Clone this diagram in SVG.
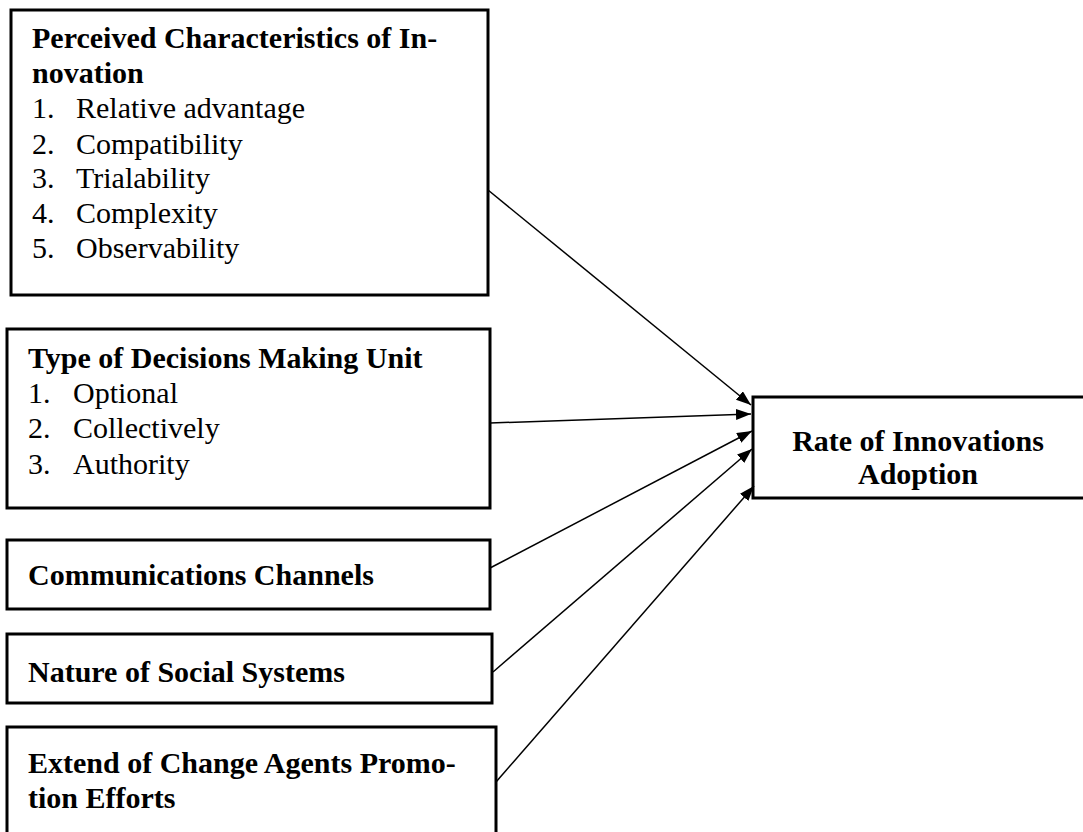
<svg xmlns="http://www.w3.org/2000/svg" width="1083" height="832" viewBox="0 0 1083 832">
<style>
.box{fill:#fff;stroke:#000;stroke-width:3}
.t{font-family:"Liberation Serif","Times New Roman",serif;font-size:30px;fill:#000}
.b{font-weight:bold}
.c{text-anchor:middle}
.conn{stroke:#000;stroke-width:1.5;fill:none;marker-end:url(#ah)}
</style>
<defs>
<marker id="ah" markerUnits="userSpaceOnUse" markerWidth="16" markerHeight="12" refX="15" refY="5.5" orient="auto">
<path d="M0,0 L15,5.5 L0,11 z" fill="#000"/>
</marker>
</defs>
<rect width="1083" height="832" fill="#fff"/>
<g id="n1">
<rect class="box" x="11" y="10" width="477" height="285"/>
<text class="t b" x="32" y="48">Perceived Characteristics of In-</text>
<text class="t b" x="32" y="83">novation</text>
<text class="t" x="32" y="118">1.</text><text class="t" x="76" y="118">Relative advantage</text>
<text class="t" x="32" y="154">2.</text><text class="t" x="76" y="154">Compatibility</text>
<text class="t" x="32" y="188">3.</text><text class="t" x="76" y="188">Trialability</text>
<text class="t" x="32" y="223">4.</text><text class="t" x="76" y="223">Complexity</text>
<text class="t" x="32" y="258">5.</text><text class="t" x="76" y="258">Observability</text>
</g>
<g id="n2">
<rect class="box" x="7" y="329" width="483" height="179"/>
<text class="t b" x="28" y="368">Type of Decisions Making Unit</text>
<text class="t" x="28" y="403">1.</text><text class="t" x="73" y="403">Optional</text>
<text class="t" x="28" y="438">2.</text><text class="t" x="73" y="438">Collectively</text>
<text class="t" x="28" y="474">3.</text><text class="t" x="73" y="474">Authority</text>
</g>
<g id="n3">
<rect class="box" x="7" y="540" width="483" height="69"/>
<text class="t b" x="28" y="585">Communications Channels</text>
</g>
<g id="n4">
<rect class="box" x="7" y="634" width="485" height="69"/>
<text class="t b" x="28" y="682">Nature of Social Systems</text>
</g>
<g id="n5">
<rect class="box" x="7" y="727" width="489" height="120"/>
<text class="t b" x="28" y="773">Extend of Change Agents Promo-</text>
<text class="t b" x="28" y="808">tion Efforts</text>
</g>
<g id="target">
<rect class="box" x="753" y="397" width="340" height="101"/>
<text class="t b c" x="918" y="451">Rate of Innovations</text>
<text class="t b c" x="918" y="484">Adoption</text>
</g>
<g id="connectors">
<line class="conn" x1="488" y1="190" x2="751" y2="405"/>
<line class="conn" x1="490" y1="423" x2="751" y2="414"/>
<line class="conn" x1="490" y1="568" x2="752" y2="431"/>
<line class="conn" x1="493" y1="672" x2="752" y2="449"/>
<line class="conn" x1="496" y1="782" x2="754" y2="486"/>
</g>
</svg>
